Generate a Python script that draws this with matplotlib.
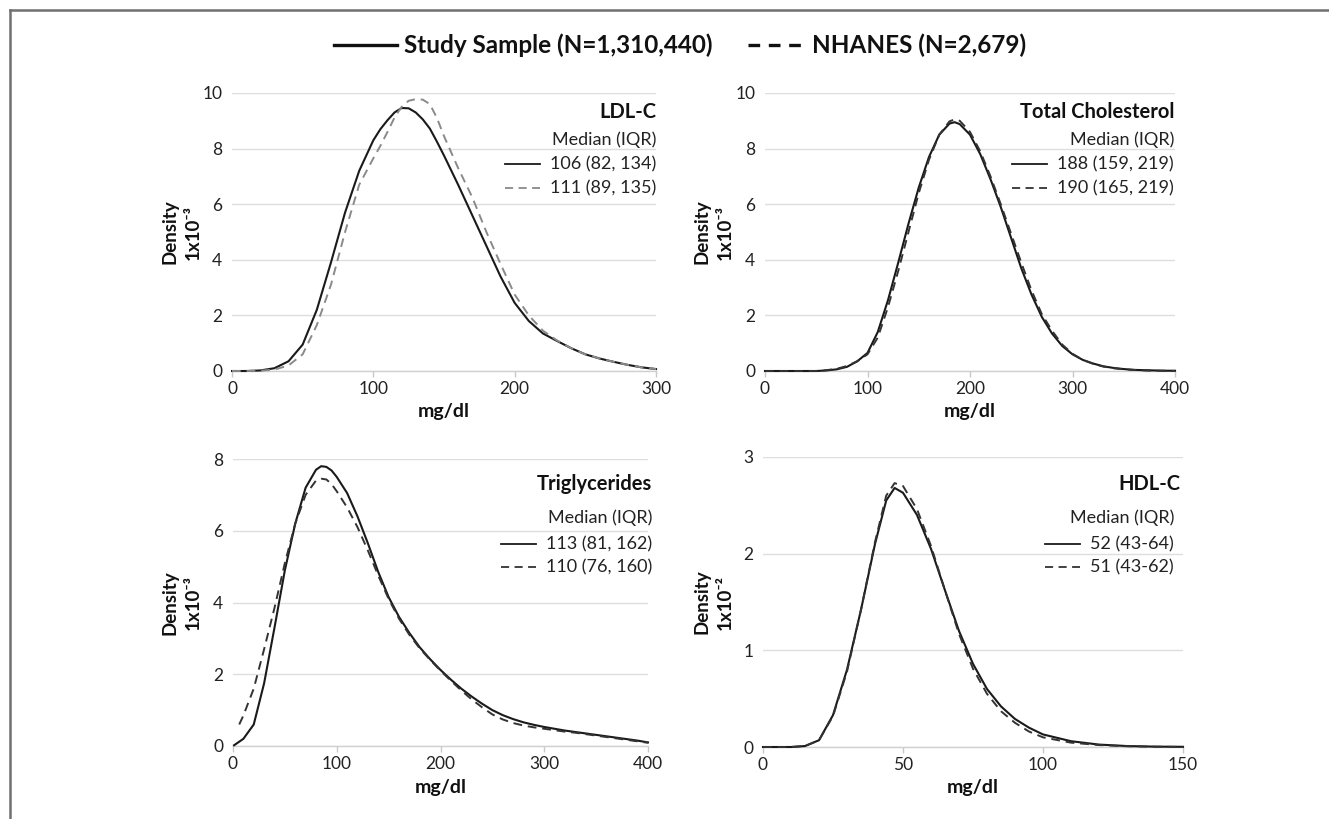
import matplotlib
matplotlib.use("Agg")
import matplotlib.pyplot as plt
from matplotlib.lines import Line2D

# ---------------- data ----------------
ldl_x = [0, 10, 20, 30, 40, 50, 60, 70, 80, 90, 100, 105, 110, 115, 120, 125, 130, 135, 140,
         145, 150, 160, 170, 180, 190, 200, 210, 220, 230, 240, 250, 260, 270, 280, 290, 300]
ldl_study = [0, 0, 0.02, 0.1, 0.35, 0.95, 2.2, 3.9, 5.7, 7.2, 8.3, 8.7, 9.02, 9.3, 9.46,
             9.45, 9.3, 9.05, 8.72, 8.25, 7.75, 6.7, 5.6, 4.5, 3.4, 2.45, 1.8, 1.35, 1.08,
             0.82, 0.6, 0.45, 0.33, 0.22, 0.13, 0.07]
ldl_nhanes = [0, 0, 0.01, 0.05, 0.2, 0.6, 1.65, 3.1, 5.0, 6.7, 7.65, 8.1, 8.6, 9.12, 9.5,
              9.72, 9.78, 9.76, 9.6, 9.1, 8.45, 7.3, 6.25, 5.0, 3.85, 2.75, 2.0, 1.45, 1.1,
              0.82, 0.6, 0.45, 0.33, 0.22, 0.13, 0.07]

tc_x = [0, 10, 20, 30, 40, 50, 60, 70, 80, 90, 100, 110, 120, 130, 140, 150, 160, 170, 180,
        185, 190, 200, 210, 220, 230, 240, 250, 260, 270, 280, 290, 300, 310, 320, 330, 340,
        350, 360, 370, 380, 390, 400]
tc_study = [0, 0, 0, 0, 0, 0, 0.02, 0.06, 0.15, 0.35, 0.65, 1.4, 2.55, 3.9, 5.3, 6.6, 7.7,
            8.5, 8.9, 8.95, 8.88, 8.5, 7.8, 6.9, 5.9, 4.8, 3.7, 2.75, 1.95, 1.35, 0.9, 0.6,
            0.4, 0.27, 0.17, 0.11, 0.07, 0.04, 0.03, 0.02, 0.01, 0.01]
tc_nhanes = [0, 0, 0, 0, 0, 0, 0.03, 0.08, 0.18, 0.35, 0.6, 1.2, 2.3, 3.6, 5.0, 6.4, 7.6,
             8.5, 8.98, 9.05, 9.0, 8.6, 7.9, 7.0, 6.0, 4.95, 3.9, 2.9, 2.05, 1.45, 0.95,
             0.62, 0.4, 0.26, 0.16, 0.1, 0.06, 0.04, 0.02, 0.01, 0.01, 0.0]

tg_x_study = [1, 10, 20, 30, 40, 50, 60, 70, 80, 85, 90, 95, 100, 110, 120, 130, 140, 150,
              160, 170, 180, 190, 200, 210, 220, 230, 240, 250, 260, 270, 280, 290, 300, 310,
              320, 330, 340, 350, 360, 370, 380, 390, 400]
tg_study = [0.02, 0.2, 0.6, 1.75, 3.3, 4.9, 6.2, 7.2, 7.7, 7.8, 7.78, 7.68, 7.5, 7.05, 6.4,
            5.65, 4.85, 4.15, 3.6, 3.15, 2.75, 2.42, 2.12, 1.85, 1.6, 1.38, 1.18, 1.0, 0.86,
            0.75, 0.66, 0.59, 0.53, 0.48, 0.43, 0.39, 0.35, 0.31, 0.27, 0.23, 0.19, 0.15, 0.1]
tg_x_nhanes = [6, 10, 20, 30, 40, 50, 60, 70, 80, 85, 90, 95, 100, 110, 120, 130, 140, 150,
               160, 170, 180, 190, 200, 210, 220, 230, 240, 250, 260, 270, 280, 290, 300, 310,
               320, 330, 340, 350, 360, 370, 380, 390, 400]
tg_nhanes = [0.6, 0.85, 1.6, 2.7, 3.85, 5.1, 6.2, 7.0, 7.4, 7.45, 7.43, 7.3, 7.1, 6.65, 6.1,
             5.45, 4.75, 4.1, 3.55, 3.1, 2.72, 2.4, 2.1, 1.82, 1.55, 1.3, 1.08, 0.88, 0.74,
             0.64, 0.57, 0.52, 0.48, 0.44, 0.4, 0.37, 0.33, 0.29, 0.25, 0.21, 0.17, 0.13, 0.09]

hdl_x = [0, 5, 10, 15, 20, 25, 30, 35, 40, 44, 47, 50, 55, 60, 65, 70, 75, 80, 85, 90, 95,
         100, 110, 120, 130, 140, 150]
hdl_study = [0, 0, 0, 0.01, 0.07, 0.33, 0.8, 1.42, 2.1, 2.55, 2.68, 2.63, 2.4, 2.05, 1.62,
             1.2, 0.86, 0.6, 0.42, 0.29, 0.2, 0.13, 0.06, 0.025, 0.01, 0.004, 0.002]
hdl_nhanes = [0, 0, 0, 0.01, 0.07, 0.32, 0.78, 1.42, 2.12, 2.6, 2.73, 2.7, 2.46, 2.08, 1.62,
              1.17, 0.81, 0.55, 0.37, 0.25, 0.16, 0.1, 0.045, 0.02, 0.008, 0.003, 0.001]

titles = ["LDL-C", "Total Cholesterol", "Triglycerides", "HDL-C"]
study_labels = ["106 (82, 134)", "188 (159, 219)", "113 (81, 162)", "52 (43-64)"]
nhanes_labels = ["111 (89, 135)", "190 (165, 219)", "110 (76, 160)", "51 (43-62)"]
y_units = ["1x10\u207b\u00b3", "1x10\u207b\u00b3", "1x10\u207b\u00b3", "1x10\u207b\u00b2"]
x_ticks = [[0, 100, 200, 300], [0, 100, 200, 300, 400], [0, 100, 200, 300, 400], [0, 50, 100, 150]]
y_ticks = [[0, 2, 4, 6, 8, 10], [0, 2, 4, 6, 8, 10], [0, 2, 4, 6, 8], [0, 1, 2, 3]]
legend_study = "Study Sample (N=1,310,440)"
legend_nhanes = "NHANES (N=2,679)"

# ---------------- layout ----------------
W, H = 1329, 819
FONT = ["Lato", "DejaVu Sans"]
plt.rcParams["font.family"] = FONT

fig = plt.figure(figsize=(W / 100, H / 100), dpi=100)
renderer = fig.canvas.get_renderer()

def fx(px):
    return px / W

def fy(py):
    return 1 - py / H

# pixel boxes: left, right, top, bottom
boxes = [(232, 656, 93, 371), (765, 1175, 93, 371), (233, 648, 459, 746), (763, 1183, 457, 747)]
# annotation pixel positions: title_y, median_y, row1_y, row2_y, right_x (title), right_x (rows)
annots = [(112, 140, 164, 188, 656, 656),
          (112, 140, 164, 188, 1174, 1174),
          (484, 518, 544, 567, 652, 652),
          (484, 518, 544, 567, 1180, 1174)]
ylab_x = [(170, 193), (702, 725), (170, 193), (702, 725)]

series = [(ldl_x, ldl_study, ldl_x, ldl_nhanes),
          (tc_x, tc_study, tc_x, tc_nhanes),
          (tg_x_study, tg_study, tg_x_nhanes, tg_nhanes),
          (hdl_x, hdl_study, hdl_x, hdl_nhanes)]

SOLID = "#1a1a1a"
DASH_COLORS = ["#8a8a8a", "#333333", "#333333", "#333333"]
DASH = (0, (4.5, 3))
SAMPLE_LEN = 35   # px
SAMPLE_GAP = 10   # px

for i in range(4):
    l, r, t, b = boxes[i]
    ax = fig.add_axes([fx(l), fy(b), (r - l) / W, (b - t) / H])
    xs, ys, xn, yn = series[i]
    ax.plot(xs, ys, color=SOLID, lw=1.5, clip_on=False, solid_joinstyle="round", zorder=3)
    ax.plot(xn, yn, color=DASH_COLORS[i], lw=1.4, ls=DASH, clip_on=False, zorder=4)
    ax.set_xlim(x_ticks[i][0], x_ticks[i][-1])
    ax.set_ylim(y_ticks[i][0], y_ticks[i][-1])
    ax.set_xticks(x_ticks[i])
    ax.set_yticks(y_ticks[i])
    for s in ["top", "right", "left"]:
        ax.spines[s].set_visible(False)
    ax.spines["bottom"].set_color("#d0d0d0")
    ax.spines["bottom"].set_linewidth(1.0)
    ax.yaxis.grid(True, color="#dedede", lw=1.0)
    ax.set_axisbelow(True)
    ax.tick_params(axis="y", length=0, pad=7, labelsize=12.5, labelcolor="#222222")
    ax.tick_params(axis="x", length=4, width=1, color="#c8c8c8", pad=3.5,
                   labelsize=12.5, labelcolor="#222222")
    ax.patch.set_alpha(0)

    ty, my, r1, r2, rxt, rxr = annots[i]
    fig.text(fx(rxt), fy(ty), titles[i], ha="right", va="center",
             fontsize=14.5, fontweight="bold", color="#111111")
    fig.text(fx(rxr), fy(my), "Median (IQR)", ha="right", va="center",
             fontsize=13, color="#222222")
    for (ry, lab, col, ls) in [(r1, study_labels[i], SOLID, "-"),
                               (r2, nhanes_labels[i], DASH_COLORS[i], DASH)]:
        txt = fig.text(fx(rxr), fy(ry), lab, ha="right", va="center",
                       fontsize=13, color="#222222")
        x_left = txt.get_window_extent(renderer).x0
        x1 = x_left - SAMPLE_GAP
        x0 = x1 - SAMPLE_LEN
        fig.add_artist(Line2D([x0 / W, x1 / W], [fy(ry), fy(ry)], color=col, lw=1.3, ls=ls))

    # axis labels
    xl_y = 412 if i < 2 else 788
    fig.text(fx((l + r) / 2), fy(xl_y), "mg/dl", ha="center", va="center",
             fontsize=14, fontweight="bold", color="#111111")
    cy = (t + b) / 2
    fig.text(fx(ylab_x[i][0]), fy(cy), "Density", rotation=90, ha="center", va="center",
             fontsize=13.5, fontweight="bold", color="#111111")
    fig.text(fx(ylab_x[i][1]), fy(cy), y_units[i], rotation=90, ha="center", va="center",
             fontsize=13.5, fontweight="bold", color="#111111",
             family=["Lato", "DejaVu Sans"])

# ---------------- top legend ----------------
LEG_FONT = ["Lato", "DejaVu Sans"]
ly = 45
fig.add_artist(Line2D([fx(334), fx(397)], [fy(ly), fy(ly)], color="#111111", lw=2.4))
fig.text(fx(404), fy(ly), legend_study, ha="left", va="center", fontsize=17.5,
         fontweight="bold", family=LEG_FONT, color="#111111")
fig.add_artist(Line2D([fx(748), fx(805)], [fy(ly), fy(ly)], color="#111111", lw=2.4,
                      ls=(0, (3.5, 2.6))))
fig.text(fx(812), fy(ly), legend_nhanes, ha="left", va="center", fontsize=17.5,
         fontweight="bold", family=LEG_FONT, color="#111111")

# ---------------- outer frame (top and left) ----------------
fig.add_artist(Line2D([fx(10), fx(W)], [fy(10), fy(10)], color="#707070", lw=1.8))
fig.add_artist(Line2D([fx(10), fx(10)], [fy(10), fy(H)], color="#707070", lw=1.8))

fig.savefig("out.png", dpi=100)
